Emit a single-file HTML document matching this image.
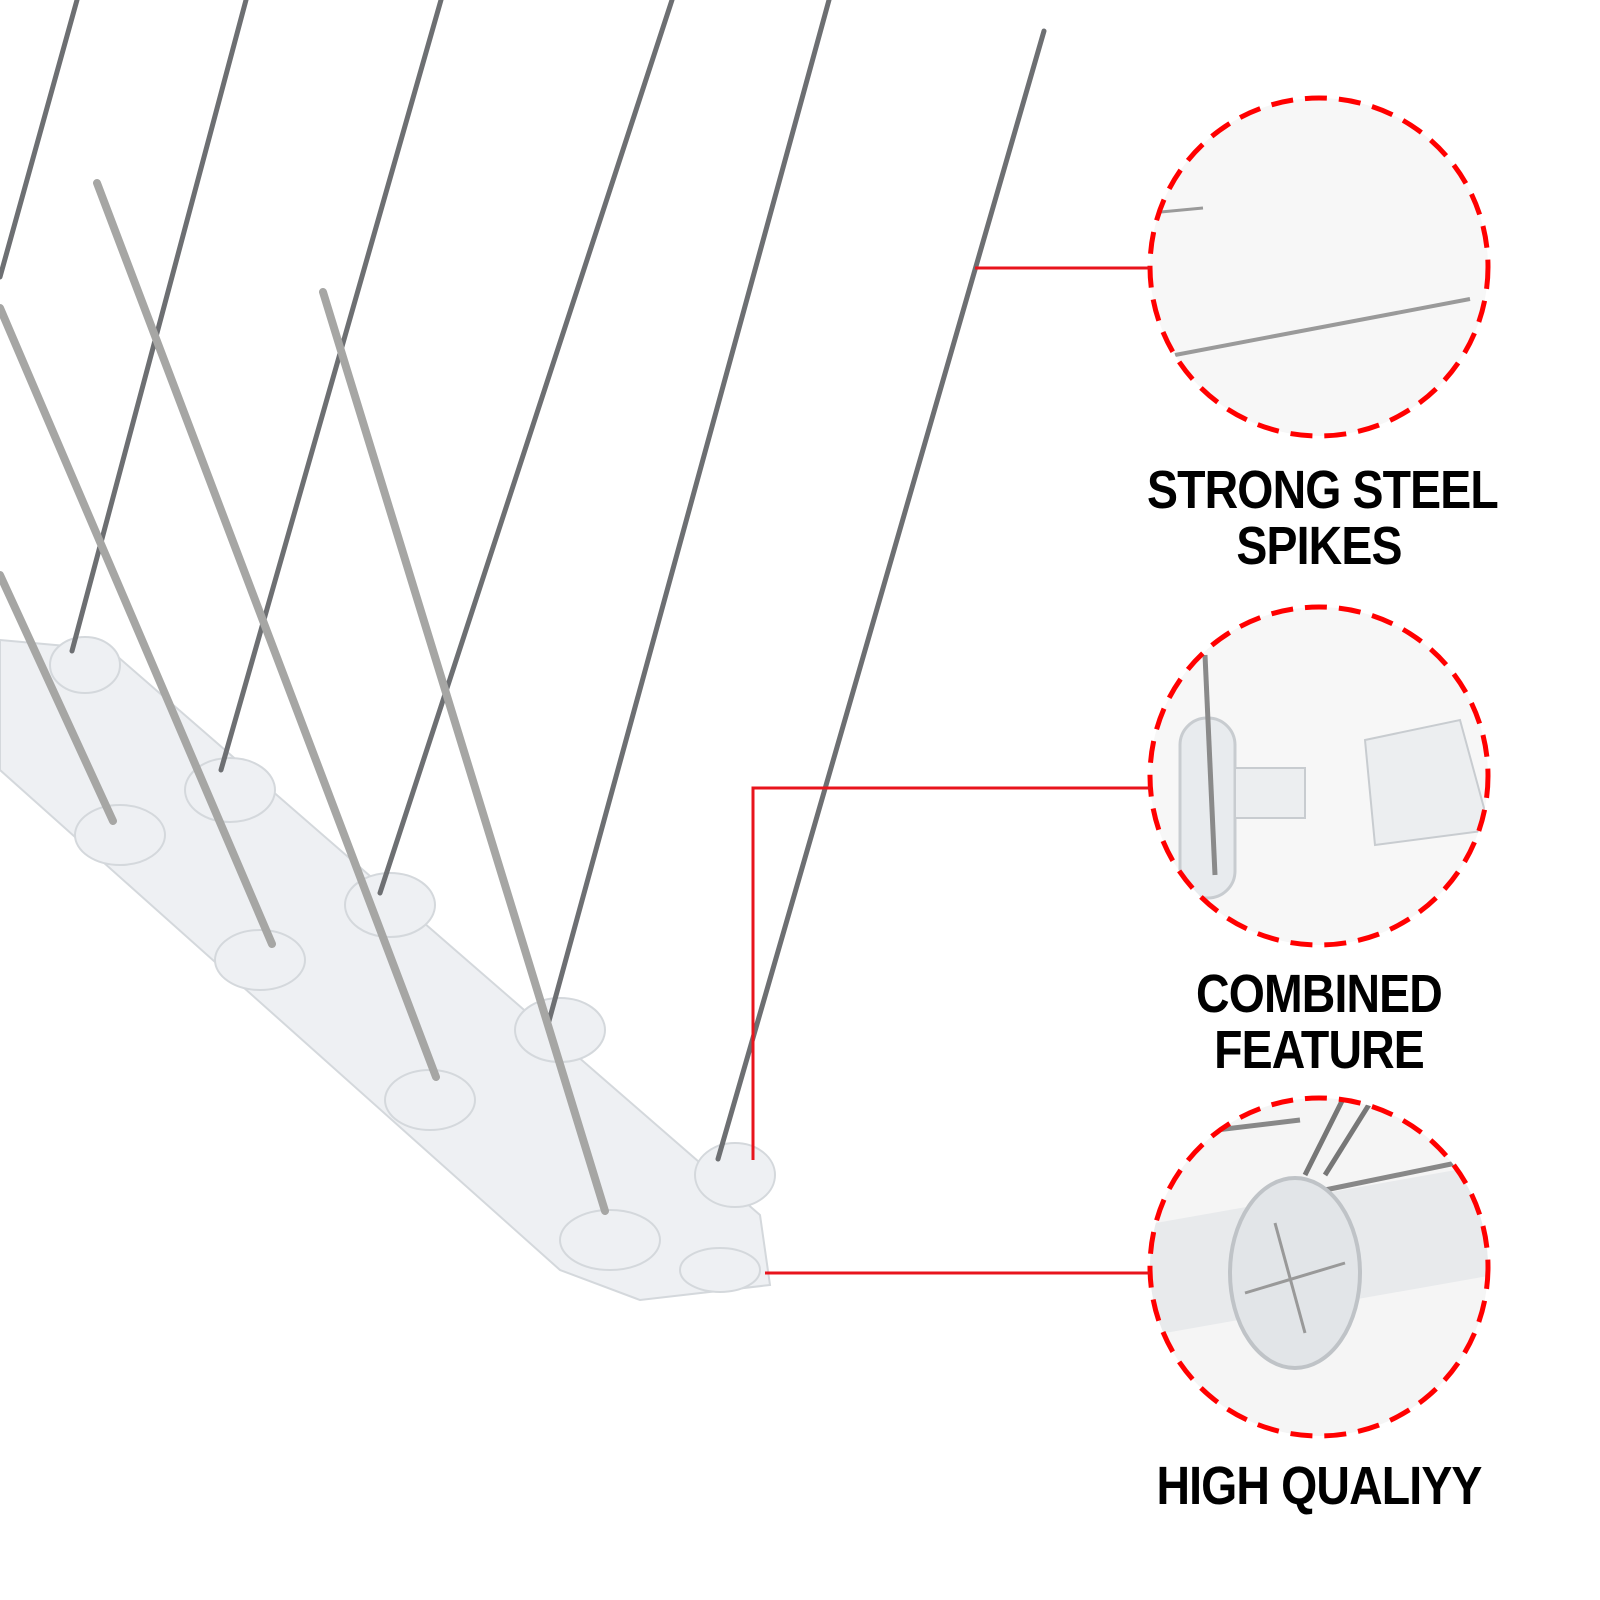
<!DOCTYPE html>
<html><head><meta charset="utf-8"><style>
html,body{margin:0;padding:0;background:#fff;width:1600px;height:1600px;overflow:hidden}
.t{position:absolute;left:1119px;width:400px;text-align:center;font-family:"Liberation Sans",sans-serif;font-weight:bold;font-size:54px;line-height:56px;color:#000;letter-spacing:-1px;white-space:nowrap;transform:scaleX(0.86);transform-origin:center}
</style></head><body>
<svg width="1600" height="1600" style="position:absolute;left:0;top:0">
<defs>
<clipPath id="c1"><circle cx="1319" cy="267" r="169"/></clipPath>
<clipPath id="c2"><circle cx="1319" cy="776" r="169"/></clipPath>
<clipPath id="c3"><circle cx="1319" cy="1267" r="169"/></clipPath>
</defs>
<g fill="#eef0f3" stroke="#d4d8dc" stroke-width="2">
<polygon points="0,640 110,650 760,1215 770,1285 640,1300 560,1270 0,770"/>
<ellipse cx="85" cy="665" rx="35" ry="28"/>
<ellipse cx="230" cy="790" rx="45" ry="32"/>
<ellipse cx="120" cy="835" rx="45" ry="30"/>
<ellipse cx="390" cy="905" rx="45" ry="32"/>
<ellipse cx="260" cy="960" rx="45" ry="30"/>
<ellipse cx="560" cy="1030" rx="45" ry="32"/>
<ellipse cx="430" cy="1100" rx="45" ry="30"/>
<ellipse cx="735" cy="1175" rx="40" ry="32"/>
<ellipse cx="610" cy="1240" rx="50" ry="30"/>
<ellipse cx="720" cy="1270" rx="40" ry="22"/>
</g>
<g stroke="#6d6f72" stroke-width="5" stroke-linecap="round">
<line x1="1044" y1="31" x2="718" y2="1159"/>
<line x1="829" y1="0" x2="549" y2="1021"/>
<line x1="672" y1="0" x2="380" y2="893"/>
<line x1="441" y1="0" x2="221" y2="770"/>
<line x1="246" y1="0" x2="72" y2="651"/>
<line x1="77" y1="0" x2="0" y2="277"/>
</g>
<g stroke="#a6a6a4" stroke-width="8" stroke-linecap="round">
<line x1="323" y1="292" x2="605" y2="1211"/>
<line x1="97" y1="183" x2="436" y2="1077"/>
<line x1="0" y1="308" x2="272" y2="944"/>
<line x1="0" y1="575" x2="113" y2="821"/>
</g>
<g clip-path="url(#c1)"><rect x="1140" y="90" width="360" height="360" fill="#f7f7f7"/>
<line x1="1175" y1="355" x2="1470" y2="299" stroke="#9a9a9a" stroke-width="4"/>
<line x1="1150" y1="213" x2="1203" y2="208" stroke="#9a9a9a" stroke-width="3"/></g>
<g clip-path="url(#c2)"><rect x="1140" y="600" width="360" height="360" fill="#f7f7f7"/>
<rect x="1180" y="718" width="55" height="180" rx="27" fill="#e8ebee" stroke="#c8ccd0" stroke-width="3"/>
<line x1="1205" y1="655" x2="1215" y2="875" stroke="#8a8a8a" stroke-width="5"/>
<rect x="1235" y="768" width="70" height="50" fill="#eceef0" stroke="#c8ccd0" stroke-width="2"/>
<polygon points="1365,740 1460,720 1490,830 1375,845" fill="#eceef0" stroke="#c8ccd0" stroke-width="2"/></g>
<g clip-path="url(#c3)"><rect x="1140" y="1090" width="360" height="360" fill="#f5f5f5"/>
<rect x="1140" y="1195" width="360" height="110" fill="#e8eaec" transform="rotate(-10 1319 1250)"/>
<line x1="1305" y1="1175" x2="1345" y2="1095" stroke="#777" stroke-width="5"/>
<line x1="1325" y1="1175" x2="1375" y2="1095" stroke="#777" stroke-width="5"/>
<line x1="1325" y1="1190" x2="1495" y2="1155" stroke="#888" stroke-width="5"/>
<line x1="1175" y1="1135" x2="1300" y2="1120" stroke="#888" stroke-width="5"/>
<ellipse cx="1295" cy="1273" rx="65" ry="95" fill="#e2e5e8" stroke="#bfc3c7" stroke-width="4"/>
<line x1="1275" y1="1223" x2="1305" y2="1333" stroke="#999" stroke-width="3"/>
<line x1="1245" y1="1293" x2="1345" y2="1263" stroke="#999" stroke-width="3"/></g>
<g fill="none" stroke="#f00" stroke-width="5" stroke-dasharray="22 12">
<circle cx="1319" cy="267" r="169"/>
<circle cx="1319" cy="776" r="169"/>
<circle cx="1319" cy="1267" r="169"/>
</g>
<g fill="none" stroke="#e8141c" stroke-width="3">
<line x1="975" y1="268" x2="1150" y2="268"/>
<polyline points="753,1160 753,788 1150,788"/>
<line x1="765" y1="1273" x2="1150" y2="1273"/>
</g>
</svg>
<div class="t" style="top:462px">STRONG STEEL<br>SPIKES</div>
<div class="t" style="top:966px">COMBINED<br>FEATURE</div>
<div class="t" style="top:1458px">HIGH QUALIYY</div>
</body></html>
